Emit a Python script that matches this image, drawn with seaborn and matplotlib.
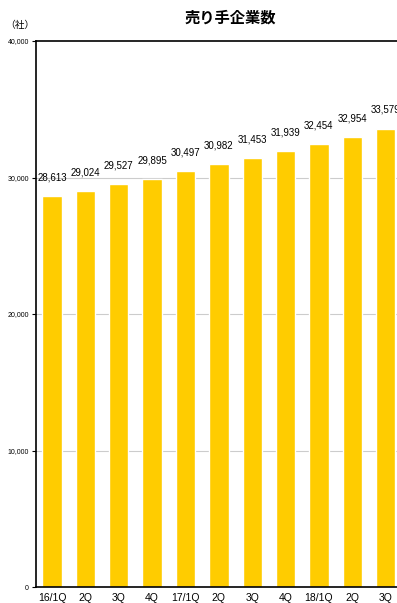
import matplotlib
matplotlib.use("Agg")
import matplotlib.pyplot as plt
import seaborn as sns
import pandas as pd

categories = ["16/1Q", "2Q", "3Q", "4Q", "17/1Q", "2Q", "3Q", "4Q", "18/1Q", "2Q", "3Q"]
values = [28613, 29024, 29527, 29895, 30497, 30982, 31453, 31939, 32454, 32954, 33579]
yticks = [0, 10000, 20000, 30000, 40000]

sns.set_theme(style="white")
plt.rcParams['font.family'] = ['Noto Sans CJK JP', 'DejaVu Sans']
plt.rcParams['text.color'] = 'black'
plt.rcParams['xtick.color'] = 'black'
plt.rcParams['ytick.color'] = 'black'

df = pd.DataFrame({"idx": [str(i) for i in range(len(categories))], "v": values})

fig = plt.figure(figsize=(3.97, 6.03), dpi=100)
ax = fig.add_axes([36/397, 16/603, 367/397, 546/603])
sns.barplot(data=df, x="idx", y="v", color="#FFCC00", saturation=1, width=0.58, ax=ax)
ax.set_xlim(-0.48, 10.52)
ax.set_ylim(0, 40000)
ax.set_yticks(yticks)
ax.set_yticklabels([f"{t:,}" for t in yticks], fontsize=5, family=['Liberation Sans', 'DejaVu Sans'])
ax.set_xticks(range(len(categories)))
ax.set_xticklabels(categories, fontsize=7.5, family=['Liberation Sans', 'DejaVu Sans'])
ax.set_xlabel("")
ax.set_ylabel("")
ax.tick_params(axis='y', length=3, width=0.8, color='black', pad=2, direction='out', left=True)
ax.tick_params(axis='x', length=0, pad=4)
for y in yticks[1:-1]:
    ax.axhline(y, color="#cccccc", lw=0.8, zorder=0)
for s in ["left", "bottom", "top"]:
    ax.spines[s].set_visible(True)
    ax.spines[s].set_color("black")
    ax.spines[s].set_linewidth(1.2)
ax.spines["right"].set_visible(False)
ax.set_axisbelow(True)
for i, v in enumerate(values):
    ax.text(i, v + 1000, f"{v:,}", ha="center", va="bottom", fontsize=7, color="black",
            family=['Liberation Sans', 'DejaVu Sans'])
fig.text(230/397, 1 - 18/603, "売り手企業数", ha="center", va="center", fontsize=11,
         fontweight="bold", color="black")
fig.text(20/397, 1 - 25/603, "（社）", ha="center", va="center", fontsize=7, color="black")
fig.savefig("out.png", dpi=100)
